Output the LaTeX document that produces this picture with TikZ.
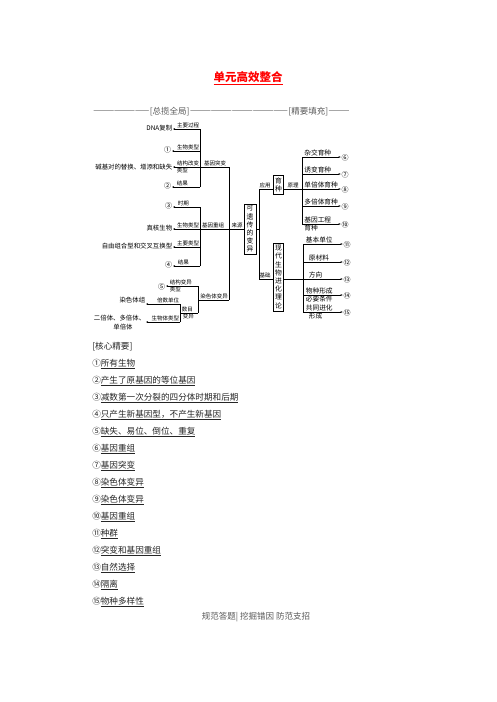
\documentclass[tikz,border=0pt]{standalone}
\usepackage{fontspec}
\setmainfont{Noto Sans CJK SC}
\usetikzlibrary{arrows.meta,positioning}
\tikzset{
  lbl/.style={font=\fontsize{5.5}{6}\selectfont, inner sep=0.6pt},
  leaf/.style={font=\fontsize{6.4}{7}\selectfont, inner sep=0.6pt, anchor=east},
  num/.style={font=\fontsize{7}{8}\selectfont, inner sep=0.6pt},
  rleaf/.style={font=\fontsize{6.7}{7.5}\selectfont, inner sep=0.6pt},
  vbox/.style={draw, line width=0.5pt, align=center, inner sep=1.2pt, font=\fontsize{6.8}{8.2}\selectfont},
  arr/.style={-{Stealth[length=2.2pt,width=1.8pt]}},
  hdr/.style={font=\fontsize{8.5}{9}\selectfont, inner sep=0pt, text=black!65},
  item/.style={anchor=west, inner sep=0pt, font=\fontsize{8.6}{10}\selectfont, text=black!85},
}
\begin{document}
\begin{tikzpicture}[x=1pt, y=-1pt, line width=0.5pt]
\fill[white] (0,0) rectangle (496,702);
\useasboundingbox (0,0) rectangle (496,702);

% title and header
\node[font=\fontsize{11.5}{12}\selectfont\bfseries, text=red] (title) at (248,78) {\underline{单元高效整合}};
\node[hdr, anchor=west] (d1) at (93,112) {————————};
\node[hdr, right=0pt of d1] (zl) {[总揽全局]};
\node[hdr, right=0pt of zl] (d2) {——————————————};
\node[hdr, right=0pt of d2] (jy) {[精要填充]};
\node[hdr, right=0pt of jy] (d3) {———};

% 基因突变
\foreach \y/\n in {129/a1, 151/a2, 167/a3, 187/a4}
  \coordinate (\n) at (200,\y);
\node[leaf] (dna) at (173,128) {DNA复制};
\node[num, anchor=east] (n1) at (172,150) {①};
\node[leaf] (jd) at (173,167) {碱基对的替换、增添和缺失};
\node[num, anchor=east] (n2) at (172,186) {②};
\node[lbl, anchor=south east] at (a1) {主要过程};
\node[lbl, anchor=south east] at (a2) {生物类型};
\node[lbl, anchor=south east] at (a3) {结构改变};
\node[lbl, anchor=north west] at (176,167) {类型};
\node[lbl, anchor=south west] at (176,187) {结果};
\draw[arr] (a1) -- (a1 -| dna.east);
\draw[arr] (a2) -- (a2 -| n1.east);
\draw[arr] (a3) -- (a3 -| jd.east);
\draw[arr] (a4) -- (a4 -| n2.east);
\draw (a1) -- (a4);
\coordinate (tA) at (229,167);
\draw (a3) -- (tA);
\node[lbl, anchor=south] at (215,167) {基因突变};

% 基因重组
\foreach \y/\n in {207/b1, 229/b2, 247/b3, 266/b4}
  \coordinate (\n) at (200,\y);
\node[num, anchor=east] (n3) at (173,206) {③};
\node[leaf] (zh) at (173,228) {真核生物};
\node[leaf] (zy) at (173,246) {自由组合型和交叉互换型};
\node[num, anchor=east] (n4) at (173,265) {④};
\node[lbl, anchor=south west] at (177,207) {时期};
\node[lbl, anchor=south east] at (b2) {生物类型};
\node[lbl, anchor=south east] at (b3) {主要类型};
\node[lbl, anchor=south west] at (177,266) {结果};
\draw[arr] (b1) -- (b1 -| n3.east);
\draw[arr] (b2) -- (b2 -| zh.east);
\draw[arr] (b3) -- (b3 -| zy.east);
\draw[arr] (b4) -- (b4 -| n4.east);
\draw (b1) -- (b4);
\node[lbl, anchor=south] at (213,229) {基因重组};
\node[lbl, anchor=south] at (237,229) {来源};

% 染色体变异
\coordinate (c1) at (198,286);
\coordinate (c2) at (198,300);
\coordinate (c3) at (198,313);
\node[num, anchor=east] (n5) at (166,287) {⑤};
\node[lbl, anchor=south west] at (169,286) {结构变异};
\node[lbl, anchor=north west] at (169,286) {类型};
\draw[arr] (c1) -- (c1 -| n5.east);
\draw (c1) -- (c3);
\coordinate (tC) at (229,300);
\draw (c2) -- (tC);
\node[lbl, anchor=south] at (214,300) {染色体变异};
\coordinate (e1) at (180,304);
\coordinate (e2) at (180,313);
\coordinate (e3) at (180,322);
\draw (e1) -- (e3);
\draw (e2) -- (c3);
\node[lbl, anchor=south west] at (181,313) {数目};
\node[lbl, anchor=north west] at (182,313) {变异};
\node[leaf] (rst) at (146,300) {染色体组};
\node[leaf] (ebt) at (146,318) {二倍体、多倍体、};
\node[leaf, anchor=north] (dbt) at (123,323) {单倍体};
\node[lbl, anchor=south east] at (e1) {倍数单位};
\node[lbl, anchor=south east] at (e3) {生物体类型};
\draw[arr] (e1) -- (e1 -| rst.east);
\draw[arr] (e3) -- (e3 -| ebt.east);

% 来源 -> 可遗传的变异
\draw (tA) -- (tC);
\node[vbox, minimum width=12pt, minimum height=50pt] (kyc) at (250,229) {可\\遗\\传\\的\\变\\异};
\draw (b2) -- (kyc.west);

% 应用 / 基础
\coordinate (r1) at (259,189);
\coordinate (r2) at (259,279);
\draw (kyc.east) -- (kyc.east -| r1);
\draw (r1) -- (r2);
\node[vbox, minimum width=10pt, minimum height=19pt] (yz) at (278.5,185) {育\\种};
\node[vbox, minimum width=10pt, minimum height=68pt] (jh) at (278.5,277) {现\\代\\生\\物\\进\\化\\理\\论};
\draw (r1) -- (r1 -| yz.west);
\draw (r2) -- (r2 -| jh.west);
\node[lbl, anchor=south] at (265,189) {应用};
\node[lbl, anchor=south] at (265,279) {基础};

% 原理 -> 育种方法
\coordinate (p1) at (302,157);
\coordinate (p2) at (302,189);
\coordinate (p3) at (302,224);
\draw (p2 -| yz.east) -- (p2);
\node[lbl, anchor=south] at (293,189) {原理};
\draw (p1) -- (p3);
\foreach \y/\t/\n [count=\i] in {157/杂交育种/⑥, 174/诱变育种/⑦, 189/单倍体育种/⑧, 206/多倍体育种/⑨, 224/基因工程/⑩}{
  \node[rleaf, anchor=south west] (yl\i) at (303.5,\y) {\t};
  \node[num] (yn\i) at (345,\y+1) {\n};
  \draw[arr] (302,\y) -- (yn\i.west |- 302,\y);
}
\node[rleaf, anchor=north west] at (303.5,224) {育种};

% 进化理论
\coordinate (q1) at (303,244);
\coordinate (q3) at (303,279);
\coordinate (q5) at (303,312);
\draw (jh.east |- q3) -- (q3);
\draw (q1) -- (q5);
\foreach \y/\t/\xo/\n [count=\i] in {244/基本单位/305/⑪, 262/原材料/308/⑫, 279/方向/308/⑬, 295/物种形成/305/⑭, 312/共同进化/305/⑮}{
  \node[rleaf, anchor=south west] (jl\i) at (\xo,\y) {\t};
  \node[num] (jn\i) at (347,\y+1) {\n};
  \draw[arr] (303,\y) -- (jn\i.west |- 303,\y);
}
\node[rleaf, anchor=north west] at (305,295) {必要条件};
\node[rleaf, anchor=north west] at (308,312) {形成};

% 核心精要
\node[item] (hx) at (92,347) {[核心精要]};
\foreach \n/\t [count=\i] in {①/所有生物, ②/产生了原基因的等位基因, ③/减数第一次分裂的四分体时期和后期, ④/只产生新基因型，不产生新基因, ⑤/缺失、易位、倒位、重复, ⑥/基因重组, ⑦/基因突变, ⑧/染色体变异, ⑨/染色体变异, ⑩/基因重组, ⑪/种群, ⑫/突变和基因重组, ⑬/自然选择, ⑭/隔离, ⑮/物种多样性}
  \node[item] (k\i) at (92,347+17*\i) {\n\underline{\t}};

% footer
\node[hdr] (gf) at (256,617) {规范答题|\ 挖掘错因\ 防范支招};
\end{tikzpicture}
\end{document}
